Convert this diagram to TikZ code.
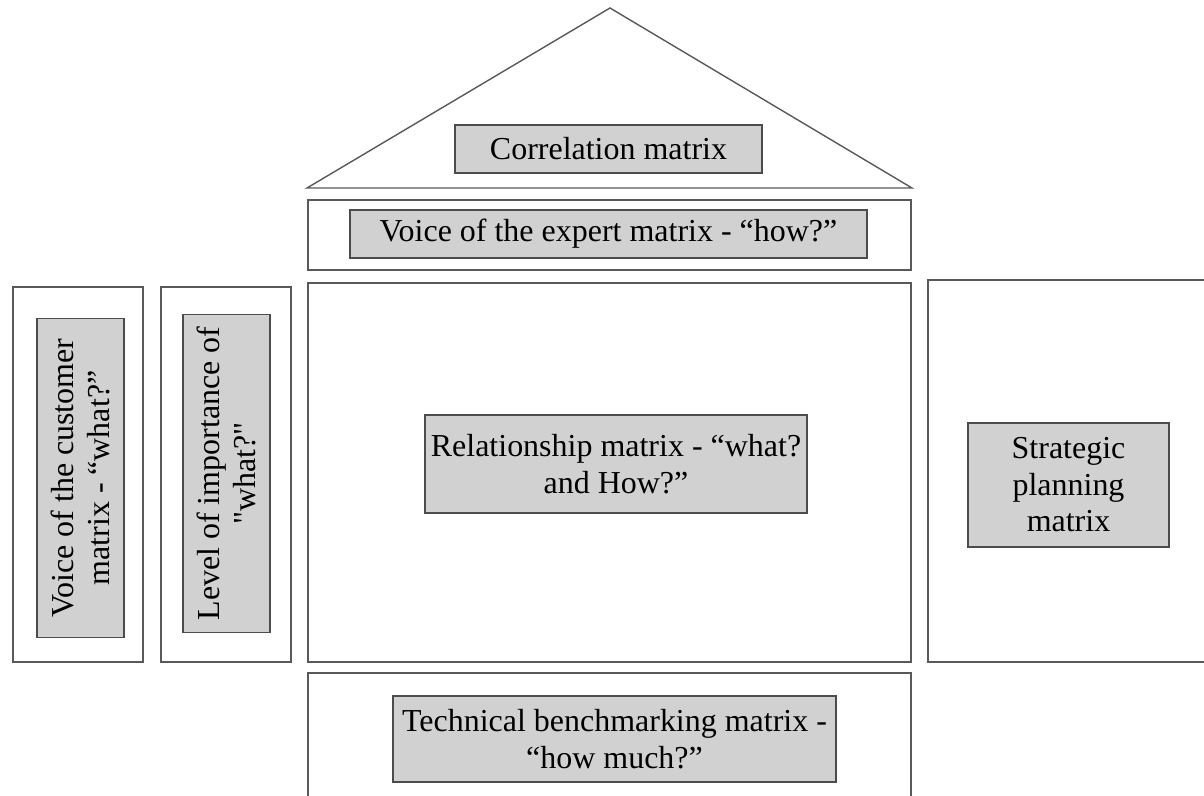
\documentclass[tikz,border=0pt]{standalone}
\usepackage{fontspec}
\setmainfont{Liberation Serif}
\usetikzlibrary{positioning, fit}

\begin{document}
\begin{tikzpicture}[x=0.02cm, y=-0.02cm,
            frame/.style={draw=black!65, line width=0.8pt, inner sep=0pt},
            matrixbox/.style={draw=black!70, fill=black!18, line width=0.7pt, align=center,
                font=\fontsize{18.2}{20.8}\selectfont, inner sep=2pt},
            sidebox/.style={matrixbox, rotate=90, minimum width=6.37cm, minimum height=1.74cm}]

            \clip (0,0) rectangle (1204,795);

            % Roof of the house
            \coordinate (roofL) at (307,188);
            \coordinate (roofT) at (610,8);
            \coordinate (roofR) at (912,188);
            \draw[draw=black!65, line width=0.8pt] (roofL) -- (roofT) -- (roofR) -- cycle;
            \node[matrixbox, minimum width=6.14cm, minimum height=0.96cm] (corr) at (608.5,149) {Correlation matrix};

            % Outer frames
            \node[frame, fit={(308,200) (911,270)}] (expertfr) {};
            \node[frame, fit={(308,283) (911,662)}] (relfr) {};
            \node[frame, fit={(13,287) (143,662)}] (vocfr) {};
            \node[frame, fit={(161,287) (291,662)}] (loifr) {};
            \node[frame, fit={(928,280) (1215,662)}] (stratfr) {};
            \node[frame, fit={(308,673) (911,810)}] (techfr) {};

            % Inner boxes
            \node[matrixbox, minimum width=10.34cm, minimum height=0.96cm] (expert) at (608.5,234) {Voice of the expert matrix - ``how?''};
            \node[matrixbox, minimum width=7.64cm, minimum height=1.96cm] (rel) at (616,464) {Relationship matrix - ``what?\\and How?''};
            \node[sidebox] (voc) at (80.5,478) {Voice of the customer\\matrix - ``what?''};
            \node[sidebox] (loi) at (226.5,473.5) {Level of importance of\\\textquotedbl what?\textquotedbl};
            \node[matrixbox, minimum width=4.02cm, minimum height=2.48cm] (strat) at (1068.5,485) {Strategic\\planning\\matrix};
            \node[matrixbox, minimum width=8.86cm, minimum height=1.72cm] (tech) at (614.5,739) {Technical benchmarking matrix -\\``how much?''};
        \end{tikzpicture}
\end{document}
